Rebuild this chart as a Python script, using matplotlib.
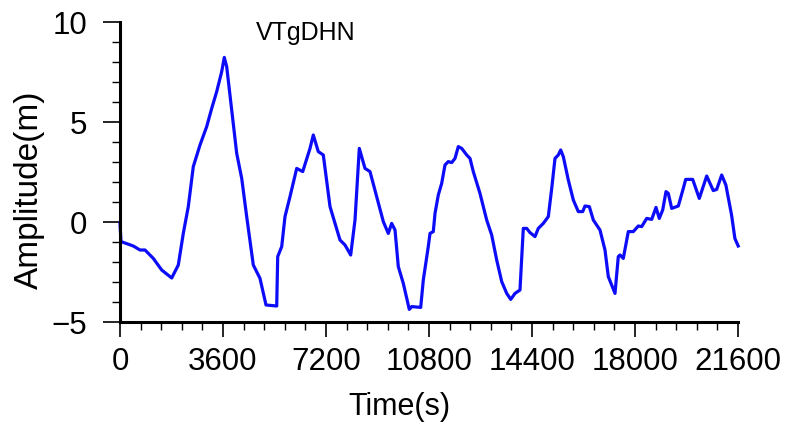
import matplotlib
matplotlib.use("Agg")
import matplotlib.pyplot as plt
from matplotlib.ticker import MultipleLocator

plt.rcParams['font.family'] = ['Liberation Sans', 'DejaVu Sans']

time_s = [0, 35, 465, 699, 874, 1164, 1457, 1807, 2038, 2212, 2387, 2562, 2796, 3030,
          3205, 3380, 3555, 3645, 3729, 3904, 4079, 4254, 4428, 4659, 4893, 5103, 5477,
          5512, 5652, 5767, 5942, 6176, 6386, 6641, 6756, 6931, 7106, 7340, 7689, 7864,
          8063, 8214, 8364, 8563, 8738, 8972, 9203, 9377, 9496, 9612, 9727, 9902, 10111,
          10195, 10510, 10601, 10775, 10835, 10950, 11010, 11125, 11243, 11359, 11474,
          11593, 11709, 11824, 11943, 12118, 12233, 12348, 12582, 12816, 12991, 13166,
          13341, 13516, 13656, 13806, 13980, 14096, 14215, 14330, 14505, 14620, 14795,
          14970, 15089, 15204, 15319, 15403, 15494, 15669, 15844, 16018, 16172, 16252,
          16403, 16543, 16776, 16951, 17067, 17186, 17301, 17416, 17476, 17591, 17766,
          17941, 18115, 18234, 18409, 18584, 18734, 18849, 18968, 19083, 19164, 19283,
          19514, 19688, 19772, 20016, 20247, 20506, 20736, 20855, 21030, 21176, 21375,
          21491, 21607]
amplitude_m = [-0.07, -0.98, -1.2, -1.4, -1.4, -1.82, -2.4, -2.8, -2.15, -0.57, 0.77, 2.77,
               3.85, 4.77, 5.68, 6.52, 7.52, 8.23, 7.77, 5.6, 3.43, 2.18, 0.27, -2.15, -2.82,
               -4.15, -4.2, -1.73, -1.23, 0.27, 1.27, 2.68, 2.52, 3.68, 4.35, 3.52, 3.35,
               0.77, -0.9, -1.15, -1.65, 0.1, 3.68, 2.68, 2.52, 1.27, 0.02, -0.57, -0.07,
               -0.4, -2.23, -3.07, -4.37, -4.23, -4.27, -2.9, -1.23, -0.57, -0.48, 0.43,
               1.35, 1.93, 2.85, 3.02, 2.97, 3.18, 3.77, 3.68, 3.35, 3.18, 2.52, 1.43, 0.1,
               -0.65, -1.9, -2.98, -3.57, -3.87, -3.57, -3.4, -0.32, -0.32, -0.53, -0.73,
               -0.32, -0.07, 0.27, 1.68, 3.18, 3.35, 3.6, 3.27, 2.1, 1.1, 0.52, 0.52, 0.8,
               0.77, 0.1, -0.4, -1.4, -2.73, -3.15, -3.57, -1.73, -1.65, -1.82, -0.48,
               -0.48, -0.2, -0.23, 0.18, 0.13, 0.73, 0.18, 0.6, 1.52, 1.43, 0.68, 0.8, 1.68,
               2.13, 2.13, 1.18, 2.3, 1.57, 1.63, 2.35, 1.85, 0.35, -0.82, -1.2]

x_ticks = [0, 3600, 7200, 10800, 14400, 18000, 21600]
y_ticks = [-5, 0, 5, 10]
station = "VTgDHN"

fig = plt.figure(figsize=(7.9, 4.24), dpi=100)
ax = fig.add_axes([120/790, 1-322/424, 618/790, 300/424])
ax.plot(time_s, amplitude_m, color='#0c0cf8', lw=2.3, clip_on=False,
        solid_joinstyle='round')
ax.set_xlim(0, 21600)
ax.set_ylim(-5, 10)
ax.set_xticks(x_ticks)
ax.set_xticklabels([str(t) for t in x_ticks])
ax.set_yticks(y_ticks)
ax.xaxis.set_minor_locator(MultipleLocator(720))
ax.yaxis.set_minor_locator(MultipleLocator(1))
for s in ['top', 'right']:
    ax.spines[s].set_visible(False)
for s in ['left', 'bottom']:
    ax.spines[s].set_linewidth(2.2)
ax.tick_params(which='major', direction='out', width=1.2, labelsize=22.5)
ax.tick_params(which='minor', direction='out', length=6, width=1.0)
ax.tick_params(axis='x', which='major', length=11, pad=7)
ax.tick_params(axis='y', which='major', length=12.5, pad=11)
ax.set_xlabel('Time(s)', fontsize=22)
ax.set_ylabel('Amplitude(m)', fontsize=24)
ax.xaxis.set_label_coords(0.452, -0.235)
ax.yaxis.set_label_coords(-0.121, 0.44)
ax.text(0.30, 0.963, station, transform=ax.transAxes, fontsize=18, ha='center', va='center')
fig.savefig('out.png', dpi=100)
